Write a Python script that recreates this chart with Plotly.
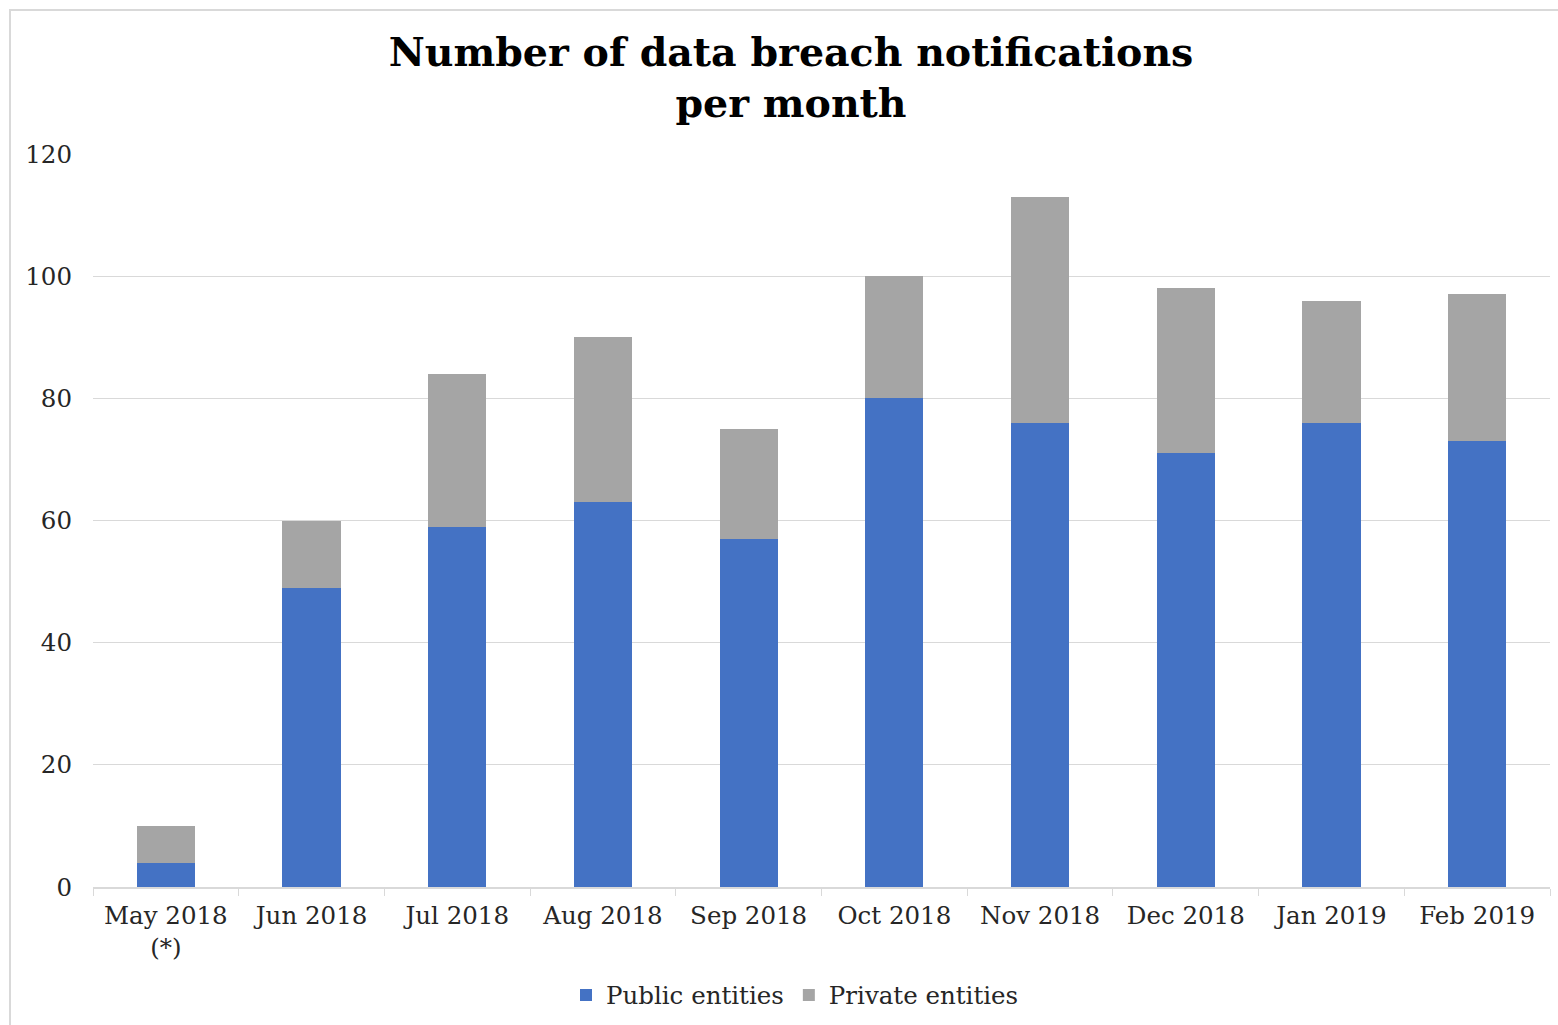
import plotly.graph_objects as go

# Monthly breach notification counts
months = ["May 2018<br>(*)", "Jun 2018", "Jul 2018", "Aug 2018", "Sep 2018",
          "Oct 2018", "Nov 2018", "Dec 2018", "Jan 2019", "Feb 2019"]
public_entities = [4, 49, 59, 63, 57, 80, 76, 71, 76, 73]
private_entities = [6, 11, 25, 27, 18, 20, 37, 27, 20, 24]
y_ticks = [0, 20, 40, 60, 80, 100, 120]

W, H = 1558, 1025
FONT = "DejaVu Serif"
TICK_SIZE = 24.5

fig = go.Figure()
fig.add_trace(go.Bar(x=months, y=public_entities, name="Public entities",
                     marker=dict(color="#4472C4", line=dict(width=0))))
fig.add_trace(go.Bar(x=months, y=private_entities, name="Private entities",
                     marker=dict(color="#A5A5A5", line=dict(width=0))))

fig.update_layout(
    barmode="stack",
    bargap=0.6,
    width=W, height=H,
    margin=dict(l=93, r=8, t=154, b=138),
    paper_bgcolor="white",
    plot_bgcolor="white",
    font=dict(family=FONT, color="#262626"),
    title=dict(
        text="<b>Number of data breach notifications<br>per month</b>",
        font=dict(family=FONT, size=39.5, color="black"),
        x=791 / W, xref="container", xanchor="center",
        y=1 - 66 / H, yref="container", yanchor="middle",
    ),
    legend=dict(
        orientation="h",
        x=795 / W, xref="container", xanchor="center",
        y=1 - 995 / H, yref="container", yanchor="middle",
        font=dict(family=FONT, size=TICK_SIZE, color="#262626"),
        itemwidth=30, traceorder="normal",
    ),
    showlegend=True,
)

fig.update_xaxes(
    type="category",
    showline=True, linecolor="#d9d9d9", linewidth=1.5,
    ticks="outside", tickson="boundaries", ticklen=7, tickcolor="#d9d9d9",
    ticklabelstandoff=6,
    tickfont=dict(family=FONT, size=TICK_SIZE, color="#262626"),
    showgrid=False,
)
fig.update_yaxes(
    range=[0, 120], tickvals=y_ticks,
    showgrid=True, gridcolor="#d9d9d9", gridwidth=1,
    zeroline=False, showline=False,
    ticklabelstandoff=20,
    tickfont=dict(family=FONT, size=TICK_SIZE, color="#262626"),
)

# Outer chart frame
fig.add_shape(type="rect", xref="paper", yref="paper",
              x0=(10 - 93) / (W - 93 - 8), x1=(1572 - 93) / (W - 93 - 8),
              y0=-(1040 - 887) / 733, y1=(887 - 10) / 733,
              line=dict(color="#d9d9d9", width=2), layer="below")

fig.write_html("out.html")
